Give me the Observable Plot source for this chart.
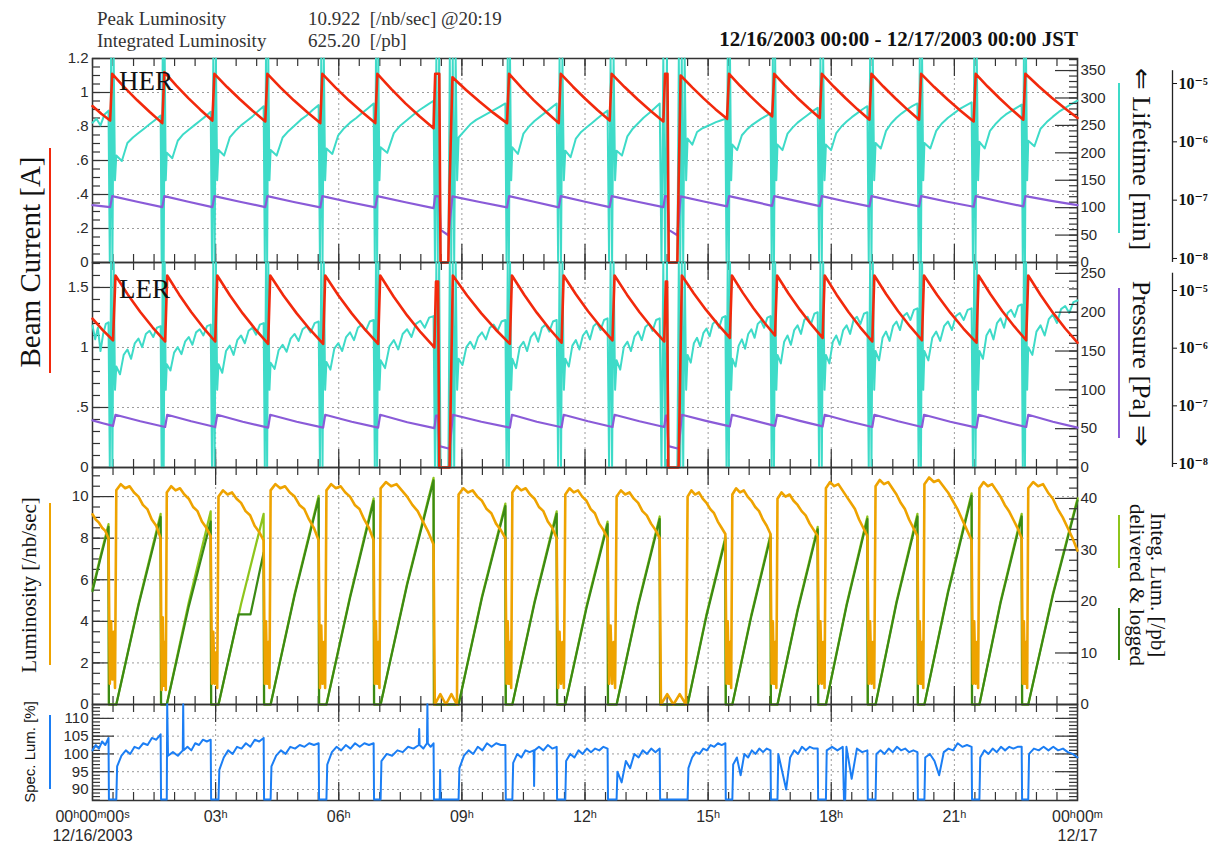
<!DOCTYPE html>
<html><head><meta charset="utf-8">
<script src="https://cdn.jsdelivr.net/npm/d3@7"></script>
<script src="https://cdn.jsdelivr.net/npm/@observablehq/plot@0.6"></script>
<style>
body{margin:0;background:#fff;}
#root{position:relative;width:1209px;height:845px;overflow:hidden;font-family:"Liberation Serif",serif;color:#222;}
.lbl{position:absolute;white-space:pre;line-height:1;}
.sw{position:absolute;}
</style></head><body><div id="root"></div><script>
// ---------------- DATA (hours since 12/16/2003 00:00 JST) ----------------
// Each run: [tStart, tEnd, v0, v1, ... vn] = values read at evenly spaced times from tStart to tEnd
const herCurrent = [ // A
 [0,0.43,0.92,0.875,0.835],[0.43,0.48,0.835,1.11],
 [0.48,1.70,1.11,1.029,0.954,0.885,0.82],[1.70,1.75,0.82,1.12],
 [1.75,2.92,1.12,1.04,0.967,0.899,0.835],[2.92,2.97,0.835,1.11],
 [2.97,4.21,1.11,1.032,0.96,0.893,0.83],[4.21,4.26,0.83,1.11],
 [4.26,5.55,1.11,1.029,0.954,0.885,0.82],[5.55,5.60,0.82,1.11],
 [5.60,6.89,1.11,1.029,0.954,0.885,0.82],[6.89,6.94,0.82,1.11],
 [6.94,8.31,1.11,1.02,0.936,0.86,0.79],[8.31,8.35,0.79,1.11],[8.35,8.45,1.11,1.11],[8.45,8.48,1.11,0],[8.48,8.67,0,0],[8.67,8.70,0,0.45],[8.70,8.77,0.45,1.09],
 [8.77,10.10,1.09,1.015,0.945,0.88,0.82],[10.10,10.15,0.82,1.11],
 [10.15,11.36,1.11,1.029,0.954,0.885,0.82],[11.36,11.41,0.82,1.11],
 [11.41,12.60,1.11,1.034,0.963,0.897,0.835],[12.60,12.65,0.835,1.11],
 [12.65,13.91,1.11,1.032,0.96,0.893,0.83],[13.91,13.95,0.83,1.11],[13.95,14.01,1.11,1.11],[14.01,14.04,1.11,0],[14.04,14.25,0,0],[14.25,14.28,0,0.45],[14.28,14.33,0.45,1.10],
 [14.33,15.46,1.10,1.03,0.964,0.902,0.845],[15.46,15.51,0.845,1.11],
 [15.51,16.56,1.11,1.041,0.977,0.917,0.86],[16.56,16.61,0.86,1.11],
 [16.61,17.72,1.11,1.038,0.971,0.909,0.85],[17.72,17.77,0.85,1.11],
 [17.77,18.93,1.11,1.035,0.966,0.901,0.84],[18.93,18.98,0.84,1.11],
 [18.98,20.14,1.11,1.035,0.966,0.901,0.84],[20.14,20.19,0.84,1.11],
 [20.19,21.47,1.11,1.032,0.96,0.893,0.83],[21.47,21.52,0.83,1.11],
 [21.52,22.68,1.11,1.035,0.966,0.901,0.84],[22.68,22.73,0.84,1.11],
 [22.73,24,1.11,1.038,0.971,0.909,0.85]
];
const herLifetime = [ // min
 [0,0.39,255,262,250,270,277],[0.39,0.58,277,0,372,0,372,150,195],
 [0.58,1.66,195,185,218,228,236,244,252,260,268],[1.66,1.81,268,0,372,0,372,150,200],
 [1.81,2.88,200,190,222,234,242,250,258,266,275],[2.88,3.07,275,0,372,0,372,150,205],
 [3.07,4.17,205,195,228,240,250,258,266,276,285],[4.17,4.34,285,0,372,0,372,150,205],
 [4.34,5.51,205,195,228,240,250,260,268,278,287],[5.51,5.70,287,0,372,0,372,150,208],
 [5.70,6.85,208,198,232,245,255,263,272,281,290],[6.85,7.02,290,0,372,0,372,150,210],
 [7.02,8.31,210,200,236,250,260,270,279,287,295],[8.31,8.48,295,0,372,0,372,0],[8.48,8.67,0,0],[8.67,8.92,0,372,0,372,0,372,150,228],
 [8.92,10.06,228,240,252,260,266,272,278,284,290],[10.06,10.23,290,0,372,0,372,150,210],
 [10.23,11.31,210,198,235,248,258,266,274,282,290],[11.31,11.52,290,0,372,0,372,150,204],
 [11.52,12.55,204,192,226,238,246,254,262,270,277],[12.55,12.77,277,0,372,0,372,150,204],
 [12.77,13.82,204,195,230,244,254,264,272,281,290],[13.82,14.04,290,0,372,0,372,0],[14.04,14.25,0,0],[14.25,14.50,0,372,0,372,0,372,150,226],
 [14.50,15.42,226,215,238,244,248,252,256,259,262],[15.42,15.59,262,0,372,0,372,150,215],
 [15.59,16.52,215,205,232,242,250,256,262,267,272],[16.52,16.69,272,0,372,0,372,150,215],
 [16.69,17.67,215,205,235,246,255,262,269,276,282],[17.67,17.87,282,0,372,0,372,150,215],
 [17.87,18.88,215,205,236,248,257,265,272,279,285],[18.88,19.08,285,0,372,0,372,150,218],
 [19.08,20.10,218,208,240,254,264,272,279,285,290],[20.10,20.27,290,0,372,0,372,150,218],
 [20.27,21.42,218,208,240,254,264,272,280,286,292],[21.42,21.61,292,0,372,0,372,150,220],
 [21.61,22.64,220,208,240,252,262,270,276,282,288],[22.64,22.80,288,0,372,0,372,150,222],
 [22.80,24,222,212,244,256,266,275,282,289,295]
];
const herPressure = [ // Pa
 [0,0.43,8.2e-8,7.9e-8,7.6e-8],[0.43,0.48,7.6e-8,1.17e-7],
 [0.48,1.70,1.17e-7,9.4e-8,7.6e-8],[1.70,1.75,7.6e-8,1.17e-7],
 [1.75,2.92,1.17e-7,9.4e-8,7.6e-8],[2.92,2.97,7.6e-8,1.17e-7],
 [2.97,4.21,1.17e-7,9.4e-8,7.6e-8],[4.21,4.26,7.6e-8,1.17e-7],
 [4.26,5.55,1.17e-7,9.3e-8,7.5e-8],[5.55,5.60,7.5e-8,1.17e-7],
 [5.60,6.89,1.17e-7,9.3e-8,7.5e-8],[6.89,6.94,7.5e-8,1.17e-7],
 [6.94,8.31,1.17e-7,9.2e-8,7.3e-8],[8.31,8.35,7.3e-8,1.17e-7],[8.35,8.45,1.17e-7,1.16e-7],[8.45,8.48,1.16e-7,3.1e-8],[8.48,8.67,3.1e-8,2.5e-8],[8.67,8.77,2.5e-8,1.16e-7],
 [8.77,10.10,1.16e-7,9.3e-8,7.5e-8],[10.10,10.15,7.5e-8,1.17e-7],
 [10.15,11.36,1.17e-7,9.4e-8,7.5e-8],[11.36,11.41,7.5e-8,1.17e-7],
 [11.41,12.60,1.17e-7,9.4e-8,7.6e-8],[12.60,12.65,7.6e-8,1.17e-7],
 [12.65,13.91,1.17e-7,9.4e-8,7.6e-8],[13.91,13.95,7.6e-8,1.17e-7],[13.95,14.01,1.17e-7,1.16e-7],[14.01,14.04,1.16e-7,3.1e-8],[14.04,14.25,3.1e-8,2.5e-8],[14.25,14.33,2.5e-8,1.16e-7],
 [14.33,15.46,1.16e-7,9.5e-8,7.8e-8],[15.46,15.51,7.8e-8,1.17e-7],
 [15.51,16.56,1.17e-7,9.7e-8,8.0e-8],[16.56,16.61,8.0e-8,1.17e-7],
 [16.61,17.72,1.17e-7,9.6e-8,7.9e-8],[17.72,17.77,7.9e-8,1.17e-7],
 [17.77,18.93,1.17e-7,9.5e-8,7.8e-8],[18.93,18.98,7.8e-8,1.17e-7],
 [18.98,20.14,1.17e-7,9.5e-8,7.8e-8],[20.14,20.19,7.8e-8,1.17e-7],
 [20.19,21.47,1.17e-7,9.4e-8,7.7e-8],[21.47,21.52,7.7e-8,1.17e-7],
 [21.52,22.68,1.17e-7,9.5e-8,7.8e-8],[22.68,22.73,7.8e-8,1.17e-7],
 [22.73,24,1.17e-7,9.7e-8,8.2e-8]
];
const lerCurrent = [ // A
 [0,0.50,1.24,1.145,1.06],[0.50,0.56,1.06,1.60],
 [0.56,1.77,1.60,1.44,1.296,1.166,1.05],[1.77,1.82,1.05,1.60],
 [1.82,2.99,1.60,1.44,1.296,1.166,1.05],[2.99,3.04,1.05,1.60],
 [3.04,4.28,1.60,1.433,1.284,1.15,1.03],[4.28,4.33,1.03,1.60],
 [4.33,5.62,1.60,1.433,1.284,1.15,1.03],[5.62,5.67,1.03,1.60],
 [5.67,6.96,1.60,1.433,1.284,1.15,1.03],[6.96,7.01,1.03,1.60],
 [7.01,8.33,1.60,1.423,1.265,1.125,1.00],[8.33,8.37,1.00,1.55],[8.37,8.42,1.55,1.55],[8.42,8.45,1.55,0],[8.45,8.70,0,0],[8.70,8.78,0,1.60],
 [8.78,10.17,1.60,1.433,1.284,1.15,1.03],[10.17,10.22,1.03,1.60],
 [10.22,11.43,1.60,1.437,1.29,1.158,1.04],[11.43,11.48,1.04,1.60],
 [11.48,12.67,1.60,1.443,1.302,1.175,1.06],[12.67,12.72,1.06,1.60],
 [12.72,13.93,1.60,1.44,1.296,1.166,1.05],[13.93,13.97,1.05,1.55],[13.97,14.00,1.55,1.55],[14.00,14.03,1.55,0],[14.03,14.28,0,0],[14.28,14.36,0,1.60],
 [14.36,15.53,1.60,1.45,1.315,1.192,1.08],[15.53,15.58,1.08,1.60],
 [15.58,16.63,1.60,1.457,1.327,1.208,1.10],[16.63,16.68,1.10,1.60],
 [16.68,17.79,1.60,1.45,1.315,1.192,1.08],[17.79,17.84,1.08,1.60],
 [17.84,19.00,1.60,1.44,1.296,1.166,1.05],[19.00,19.05,1.05,1.60],
 [19.05,20.21,1.60,1.443,1.302,1.175,1.06],[20.21,20.26,1.06,1.60],
 [20.26,21.54,1.60,1.437,1.29,1.158,1.04],[21.54,21.59,1.04,1.60],
 [21.59,22.75,1.60,1.443,1.302,1.175,1.06],[22.75,22.80,1.06,1.60],
 [22.80,24,1.60,1.437,1.29,1.158,1.04]
];
const lerLifetime = [ // min
 [0,0.39,183,165,180,150,172,185,187],[0.39,0.58,187,0,264,0,264,100,130],
 [0.58,1.66,130,120,145,152,140,160,166,155,172,176,168,180,182],[1.66,1.81,182,0,264,0,264,100,133],
 [1.81,2.88,133,125,148,155,146,162,168,158,174,178,170,182,184],[2.88,3.07,184,0,264,0,264,100,133],
 [3.07,4.17,133,122,150,157,145,164,170,160,176,180,171,184,186],[4.17,4.34,186,0,264,0,264,100,135],
 [4.34,5.51,135,127,151,158,149,166,172,163,178,182,174,186,188],[5.51,5.70,188,0,264,0,264,100,136],
 [5.70,6.85,136,126,153,160,150,168,174,164,180,184,176,188,190],[6.85,7.02,190,0,264,0,264,100,138],
 [7.02,8.31,138,128,156,164,152,172,178,168,185,189,180,193,195],[8.31,8.48,195,0,264,0,264,0],[8.48,8.67,0,0],[8.67,8.92,0,264,0,264,0,264,100,140],
 [8.92,10.06,140,132,155,162,153,168,174,165,180,184,176,188,190],[10.06,10.23,190,0,264,0,264,100,140],
 [10.23,11.31,140,128,155,162,150,168,174,162,180,184,175,188,190],[11.31,11.52,190,0,264,0,264,100,140],
 [11.52,12.55,140,130,157,164,152,170,176,165,182,186,177,190,192],[12.55,12.77,192,0,264,0,264,100,138],
 [12.77,13.82,138,126,155,162,150,169,175,164,181,185,176,190,192],[13.82,14.04,192,0,264,0,264,0],[14.04,14.25,0,0],[14.25,14.50,0,264,0,264,0,264,100,145],
 [14.50,15.42,145,135,160,167,156,173,179,169,185,189,180,193,195],[15.42,15.59,195,0,264,0,264,100,140],
 [15.59,16.52,140,130,157,165,153,172,178,167,185,189,180,193,195],[16.52,16.69,195,0,264,0,264,100,145],
 [16.69,17.67,145,134,162,170,158,177,183,172,190,194,185,198,200],[17.67,17.87,200,0,264,0,264,100,145],
 [17.87,18.88,145,134,162,170,158,177,183,172,190,194,185,198,200],[18.88,19.08,200,0,264,0,264,100,150],
 [19.08,20.10,150,138,167,175,163,182,188,177,195,199,190,203,205],[20.10,20.27,205,0,264,0,264,100,150],
 [20.27,21.42,150,138,167,175,163,182,188,177,195,199,190,203,205],[21.42,21.61,205,0,264,0,264,100,150],
 [21.61,22.64,150,140,170,178,165,186,192,180,199,203,194,208,210],[22.64,22.80,210,0,264,0,264,100,155],
 [22.80,24,155,145,175,183,170,191,197,186,204,208,199,213,215]
];
const lerPressure = [ // Pa
 [0,0.50,5.6e-8,5.0e-8,4.5e-8],[0.50,0.56,4.5e-8,7.0e-8],
 [0.56,1.77,7.0e-8,5.4e-8,4.3e-8],[1.77,1.82,4.3e-8,7.0e-8],
 [1.82,2.99,7.0e-8,5.4e-8,4.3e-8],[2.99,3.04,4.3e-8,7.0e-8],
 [3.04,4.28,7.0e-8,5.3e-8,4.2e-8],[4.28,4.33,4.2e-8,7.0e-8],
 [4.33,5.62,7.0e-8,5.3e-8,4.2e-8],[5.62,5.67,4.2e-8,7.0e-8],
 [5.67,6.96,7.0e-8,5.3e-8,4.2e-8],[6.96,7.01,4.2e-8,7.0e-8],
 [7.01,8.33,7.0e-8,5.2e-8,4.1e-8],[8.33,8.37,4.1e-8,6.8e-8],[8.37,8.42,6.8e-8,6.8e-8],[8.42,8.45,6.8e-8,2.0e-8],[8.45,8.70,2.0e-8,1.8e-8],[8.70,8.78,1.8e-8,7.0e-8],
 [8.78,10.17,7.0e-8,5.3e-8,4.2e-8],[10.17,10.22,4.2e-8,7.0e-8],
 [10.22,11.43,7.0e-8,5.3e-8,4.25e-8],[11.43,11.48,4.25e-8,7.0e-8],
 [11.48,12.67,7.0e-8,5.4e-8,4.3e-8],[12.67,12.72,4.3e-8,7.0e-8],
 [12.72,13.93,7.0e-8,5.4e-8,4.3e-8],[13.93,13.97,4.3e-8,6.8e-8],[13.97,14.00,6.8e-8,6.8e-8],[14.00,14.03,6.8e-8,2.0e-8],[14.03,14.28,2.0e-8,1.8e-8],[14.28,14.36,1.8e-8,7.0e-8],
 [14.36,15.53,7.0e-8,5.5e-8,4.4e-8],[15.53,15.58,4.4e-8,7.0e-8],
 [15.58,16.63,7.0e-8,5.6e-8,4.5e-8],[16.63,16.68,4.5e-8,7.0e-8],
 [16.68,17.79,7.0e-8,5.5e-8,4.4e-8],[17.79,17.84,4.4e-8,7.0e-8],
 [17.84,19.00,7.0e-8,5.4e-8,4.3e-8],[19.00,19.05,4.3e-8,7.0e-8],
 [19.05,20.21,7.0e-8,5.4e-8,4.3e-8],[20.21,20.26,4.3e-8,7.0e-8],
 [20.26,21.54,7.0e-8,5.3e-8,4.2e-8],[21.54,21.59,4.2e-8,7.0e-8],
 [21.59,22.75,7.0e-8,5.4e-8,4.3e-8],[22.75,22.80,4.3e-8,7.0e-8],
 [22.80,24,7.0e-8,5.3e-8,4.2e-8]
];
const luminosity = [ // /nb/sec
 [0,0.39,9.15,8.9,8.75,8.5,8.35,8.0],[0.39,0.58,8.0,1.0,4.0,1.2,3.5,0.8,10.2],
 [0.58,1.66,10.3,10.6,10.4,10.5,10.2,10.0,9.6,9.4,8.9,8.6,8.0],[1.66,1.81,8.0,0.7,4.2,0.9,3.0,0.7,10.1],
 [1.81,2.88,10.2,10.5,10.3,10.4,10.1,9.9,9.5,9.3,8.8,8.5,8.1],[2.88,3.07,8.1,1.0,3.5,1.0,2.5,0.8,10.0],
 [3.07,4.17,10.0,10.3,10.1,10.2,9.9,9.7,9.3,9.1,8.6,8.3,7.9],[4.17,4.34,7.9,1.0,4.0,1.0,3.0,0.8,10.2],
 [4.34,5.51,10.3,10.6,10.4,10.5,10.2,10.0,9.6,9.4,8.9,8.5,7.9],[5.51,5.70,7.9,0.8,3.8,1.0,3.0,0.8,10.2],
 [5.70,6.85,10.3,10.6,10.4,10.5,10.2,10.0,9.6,9.4,8.9,8.5,7.9],[6.85,7.02,7.9,1.0,4.0,1.0,3.0,0.8,10.3],
 [7.02,8.31,10.4,10.7,10.5,10.6,10.3,10.0,9.6,9.3,8.8,8.3,7.7],[8.31,8.34,7.7,0],[8.34,8.88,0,0.5,0,0.5,0],[8.88,8.92,0,10.1],
 [8.92,10.06,10.1,10.4,10.2,10.3,10.0,9.8,9.4,9.2,8.7,8.4,8.0],[10.06,10.23,8.0,1.0,4.0,1.0,3.0,0.8,10.1],
 [10.23,11.31,10.2,10.5,10.3,10.4,10.1,9.9,9.5,9.3,8.8,8.5,8.0],[11.31,11.52,8.0,0.8,3.5,1.0,3.0,0.8,10.0],
 [11.52,12.55,10.1,10.4,10.2,10.3,10.0,9.8,9.4,9.2,8.7,8.4,8.0],[12.55,12.77,8.0,1.0,3.8,1.0,3.0,0.8,9.9],
 [12.77,13.82,10.0,10.3,10.1,10.2,9.9,9.7,9.3,9.1,8.7,8.4,8.0],[13.82,13.85,8.0,0],[13.85,14.46,0,0.5,0,0.5,0],[14.46,14.50,0,10.0],
 [14.50,15.42,10.0,10.3,10.1,10.2,9.9,9.7,9.4,9.2,8.8,8.5,8.2],[15.42,15.59,8.2,1.0,4.0,1.0,3.0,0.8,10.1],
 [15.59,16.52,10.1,10.4,10.2,10.3,10.0,9.8,9.5,9.3,8.9,8.6,8.2],[16.52,16.69,8.2,1.0,4.0,1.0,3.0,0.8,9.9],
 [16.69,17.67,9.9,10.2,10.0,10.1,9.8,9.6,9.3,9.1,8.7,8.4,8.1],[17.67,17.87,8.1,1.0,4.0,1.0,3.0,0.8,10.4],
 [17.87,18.88,10.4,10.7,10.5,10.6,10.3,10.0,9.7,9.4,8.9,8.5,8.1],[18.88,19.08,8.1,1.0,4.0,1.0,3.0,0.8,10.5],
 [19.08,20.10,10.5,10.8,10.6,10.7,10.4,10.1,9.7,9.4,8.9,8.5,8.1],[20.10,20.27,8.1,1.0,4.0,1.0,3.0,0.8,10.6],
 [20.27,21.42,10.6,10.92,10.7,10.8,10.5,10.2,9.8,9.4,8.9,8.4,7.9],[21.42,21.61,7.9,1.0,4.0,1.0,3.0,0.8,10.4],
 [21.61,22.64,10.4,10.7,10.5,10.6,10.3,10.0,9.6,9.3,8.9,8.5,8.0],[22.64,22.80,8.0,1.0,4.0,1.0,3.0,0.8,10.4],
 [22.80,24,10.4,10.7,10.5,10.6,10.2,9.9,9.4,9.0,8.5,8.0,7.4]
];
const integDelivered = [ // /pb
 [0,0.39,22.3,28.8,35.0],[0.39,0.40,35.0,0],[0.40,0.58,0,0],
 [0.58,1.66,0,19.5,37.0],[1.66,1.67,37.0,0],[1.67,1.81,0,0],
 [1.81,2.88,0,19.8,37.5],[2.88,2.89,37.5,0],[2.89,3.07,0,0],
 [3.07,4.17,0,19.5,37.0],[4.17,4.18,37.0,0],[4.18,4.34,0,0],
 [4.34,5.51,0,21.5,40.5],[5.51,5.52,40.5,0],[5.52,5.70,0,0],
 [5.70,6.85,0,21.0,40.0],[6.85,6.86,40.0,0],[6.86,7.02,0,0],
 [7.02,8.31,0,23.5,44.0],[8.31,8.32,44.0,0],[8.32,8.92,0,0],
 [8.92,10.06,0,21.0,39.0],[10.06,10.07,39.0,0],[10.07,10.23,0,0],
 [10.23,11.31,0,20.0,37.5],[11.31,11.32,37.5,0],[11.32,11.52,0,0],
 [11.52,12.55,0,19.0,35.5],[12.55,12.56,35.5,0],[12.56,12.77,0,0],
 [12.77,13.82,0,19.5,36.5],[13.82,13.83,36.5,0],[13.83,14.50,0,0],
 [14.50,15.42,0,17.5,32.5],[15.42,15.43,32.5,0],[15.43,15.59,0,0],
 [15.59,16.52,0,17.5,33.0],[16.52,16.53,33.0,0],[16.53,16.69,0,0],
 [16.69,17.67,0,18.5,34.5],[17.67,17.68,34.5,0],[17.68,17.87,0,0],
 [17.87,18.88,0,19.5,36.5],[18.88,18.89,36.5,0],[18.89,19.08,0,0],
 [19.08,20.10,0,20.0,37.0],[20.10,20.11,37.0,0],[20.11,20.27,0,0],
 [20.27,21.42,0,22.0,41.0],[21.42,21.43,41.0,0],[21.43,21.61,0,0],
 [21.61,22.64,0,20.0,37.0],[22.64,22.65,37.0,0],[22.65,22.80,0,0],
 [22.80,24,0,21.5,40.0]
];
const integLogged = [ // /pb
 [0,0.39,22.0,28.4,34.5],[0.39,0.40,34.5,0],[0.40,0.58,0,0],
 [0.58,1.66,0,19.2,36.4],[1.66,1.67,36.4,0],[1.67,1.81,0,0],
 [1.81,2.88,0,19.0,35.5],[2.88,2.89,35.5,0],[2.89,3.07,0,0],
 [3.07,3.56,0,17.5],[3.56,3.85,17.5,17.5],[3.85,4.17,17.5,29.5],[4.17,4.18,29.5,0],[4.18,4.34,0,0],
 [4.34,5.51,0,21.2,40.0],[5.51,5.52,40.0,0],[5.52,5.70,0,0],
 [5.70,6.85,0,20.7,39.5],[6.85,6.86,39.5,0],[6.86,7.02,0,0],
 [7.02,8.31,0,23.2,43.5],[8.31,8.32,43.5,0],[8.32,8.92,0,0],
 [8.92,10.06,0,20.7,38.5],[10.06,10.07,38.5,0],[10.07,10.23,0,0],
 [10.23,11.31,0,19.7,37.0],[11.31,11.32,37.0,0],[11.32,11.52,0,0],
 [11.52,12.55,0,18.7,35.0],[12.55,12.56,35.0,0],[12.56,12.77,0,0],
 [12.77,13.82,0,19.2,36.0],[13.82,13.83,36.0,0],[13.83,14.50,0,0],
 [14.50,15.42,0,17.2,32.0],[15.42,15.43,32.0,0],[15.43,15.59,0,0],
 [15.59,16.52,0,17.2,32.5],[16.52,16.53,32.5,0],[16.53,16.69,0,0],
 [16.69,17.67,0,18.2,34.0],[17.67,17.68,34.0,0],[17.68,17.87,0,0],
 [17.87,18.88,0,19.2,36.0],[18.88,18.89,36.0,0],[18.89,19.08,0,0],
 [19.08,20.10,0,19.7,36.5],[20.10,20.11,36.5,0],[20.11,20.27,0,0],
 [20.27,21.42,0,21.7,40.5],[21.42,21.43,40.5,0],[21.43,21.61,0,0],
 [21.61,22.64,0,19.7,36.5],[22.64,22.65,36.5,0],[22.65,22.80,0,0],
 [22.80,24,0,21.2,39.6]
];
const specLumi = [ // %
 [0,0.39,101.0,102.5,101.5,103.5,102.5,104.5],[0.39,0.40,104.5,87.2],[0.40,0.58,87.2,87.2],[0.58,0.60,87.2,96.5],
 [0.60,1.66,96.5,99.5,101.0,100.0,102.0,101.5,103.0,102.5,104.5,104.0,105.5],[1.66,1.67,105.5,87.2],[1.67,1.81,87.2,87.2],[1.81,1.82,87.2,114],[1.82,1.84,114,99.5],
 [1.84,2.20,99.5,100.5,99.5,101.0],[2.20,2.22,101.0,114,101.0],[2.22,2.88,101.0,102.0,101.0,103.0,102.5,104.0,103.5,104.0],[2.88,2.89,104.0,87.2],[2.89,3.07,87.2,87.2],[3.07,3.09,87.2,95.5],
 [3.09,4.17,95.5,99.0,101.0,100.0,102.0,101.5,103.0,102.0,104.0,103.5,104.5],[4.17,4.18,104.5,87.2],[4.18,4.34,87.2,87.2],[4.34,4.36,87.2,96.5],
 [4.36,5.51,96.5,99.5,101.0,100.0,102.0,101.5,102.5,102.0,103.0,102.5,103.0],[5.51,5.52,103.0,87.2],[5.52,5.70,87.2,87.2],[5.70,5.72,87.2,97.0],
 [5.72,6.85,97.0,100.5,102.0,101.0,102.5,101.5,103.0,102.0,103.0,102.5,103.0],[6.85,6.86,103.0,87.2],[6.86,7.02,87.2,87.2],[7.02,7.04,87.2,98.0],
 [7.04,7.95,98.0,100.0,99.5,101.0,100.5,102.0,101.5,102.5],[7.95,7.97,102.5,107,102.5],[7.97,8.15,102.5,101.5,103.0],[8.15,8.17,103.0,114,103.0],[8.17,8.31,103.0,102.0,103.0],
 [8.31,8.32,103.0,87.2],[8.32,8.46,87.2,87.2],[8.46,8.48,87.2,95.5,87.2],[8.48,8.92,87.2,87.2],[8.92,8.94,87.2,96.0],
 [8.94,10.06,96.0,99.5,101.0,100.0,102.0,101.0,103.0,102.0,103.0,102.5,102.5],[10.06,10.07,102.5,87.2],[10.07,10.23,87.2,87.2],[10.23,10.25,87.2,97.5],
 [10.25,10.75,97.5,100.0,99.0,101.0,100.5,101.0],[10.75,10.77,101.0,91.0,101.0],[10.77,11.31,101.0,102.0,101.0,102.5,101.5,102.0],[11.31,11.32,102.0,87.2],[11.32,11.52,87.2,87.2],[11.52,11.54,87.2,98.0],
 [11.54,12.55,98.0,100.0,99.0,101.0,100.0,101.5,100.5,101.5,101.0,102.0,101.5],[12.55,12.56,101.5,87.2],[12.56,12.77,87.2,87.2],[12.77,12.79,87.2,95.0],
 [12.79,13.82,95.0,92.0,98.0,96.0,100.0,99.0,101.0,100.0,101.5,100.5,101.5],[13.82,13.83,101.5,87.2],[13.83,14.50,87.2,87.2],[14.50,14.52,87.2,96.0],
 [14.52,15.42,96.0,99.0,100.5,100.0,101.5,101.0,102.5,102.0,103.0,102.5,103.0],[15.42,15.43,103.0,87.2],[15.43,15.59,87.2,87.2],[15.59,15.61,87.2,97.0],
 [15.61,16.52,97.0,99.0,94.0,100.0,99.0,101.0,100.0,101.5,100.5,101.5,101.0],[16.52,16.53,101.0,87.2],[16.53,16.69,87.2,87.2],[16.69,16.71,87.2,100.0],
 [16.71,17.67,100.0,95.0,90.0,99.0,101.0,100.0,102.0,101.0,102.0,101.5,101.5],[17.67,17.68,101.5,87.2],[17.68,17.87,87.2,87.2],[17.87,17.89,87.2,101.0],
 [17.89,18.28,101.0,102.0,101.0,102.0],[18.28,18.37,102.0,87.2,87.2,102.0],[18.37,18.88,102.0,93.0,101.5,100.5,101.0],[18.88,18.89,101.0,87.2],[18.89,19.08,87.2,87.2],[19.08,19.10,87.2,100.0],
 [19.10,20.10,100.0,101.0,100.0,101.5,100.5,102.0,101.0,101.5,100.5,101.0,100.5],[20.10,20.11,100.5,87.2],[20.11,20.27,87.2,87.2],[20.27,20.29,87.2,99.0],
 [20.29,21.42,99.0,100.0,98.0,94.0,100.5,101.5,101.0,103.0,102.0,102.5,102.0],[21.42,21.43,102.0,87.2],[21.43,21.61,87.2,87.2],[21.61,21.63,87.2,99.0],
 [21.63,22.64,99.0,101.0,100.0,101.5,100.5,102.0,101.0,102.0,101.5,102.0,102.0],[22.64,22.65,102.0,87.2],[22.65,22.80,87.2,87.2],[22.80,22.82,87.2,100.0],
 [22.82,24,100.0,101.5,101.0,102.0,101.0,102.0,101.0,101.5,100.5,100.0,99.0]
];
// ---------------- helpers ----------------
const pts = runs => runs.flatMap(([t0, t1, ...v]) =>
  v.map((val, k) => ({t: v.length > 1 ? t0 + (t1 - t0) * k / (v.length - 1) : t0, v: val})));
const root = document.getElementById("root");
const W = 1209, X0 = 92, X1 = 1077, ML = X0, MR = W - X1, PAD = 16, IW = X1 - X0;
const hoursMinor = d3.range(0, 24.001, 0.5);
const hoursMajor = d3.range(3, 22, 3);
const C = {red:"#f2290c", cyan:"#3edbc8", purple:"#8a5bd8", orange:"#eea300", lgreen:"#8ec51c", dgreen:"#3b8a14", blue:"#1b7ef4"};
const TK = {stroke:"#333", strokeWidth:1.2};
const GRID = {stroke:"#9c9c9c", strokeDasharray:"2,3", strokeWidth:1};
const numFmt = d => d === 0 ? "0" : (+d.toFixed(2)).toString().replace(/^0\./, ".");

function layer(top, h, y, marks, extraBottom = 0) {
  const svg = Plot.plot({
    width: W, height: h + 2 * PAD + extraBottom,
    marginLeft: ML, marginRight: MR, marginTop: PAD, marginBottom: PAD + extraBottom,
    x: {domain: [0, 24], axis: null},
    y: {...y, axis: null},
    style: {background: "transparent", fontFamily: "'Liberation Sans', 'DejaVu Sans', sans-serif", fontSize: "15px", color: "#2a2a2a", overflow: "visible"},
    marks
  });
  svg.style.position = "absolute"; svg.style.left = "0px"; svg.style.top = (top - PAD) + "px";
  root.appendChild(svg);
}
function xTicks(h) {
  return [
    Plot.tickX(hoursMinor, {x: d => d, insetBottom: h - 8, ...TK}),
    Plot.tickX(hoursMinor, {x: d => d, insetTop: h - 8, ...TK}),
    Plot.tickX(hoursMajor, {x: d => d, insetBottom: h - 18, ...TK}),
    Plot.tickX(hoursMajor, {x: d => d, insetTop: h - 18, ...TK})
  ];
}
const leftTicks = (major, minor) => [
  Plot.tickY(minor, {y: d => d, insetRight: IW - 8, ...TK}),
  Plot.tickY(major, {y: d => d, insetRight: IW - 22, ...TK})
];
const rightTicks = (major, minor) => [
  Plot.tickY(minor, {y: d => d, insetLeft: IW - 8, ...TK}),
  Plot.tickY(major, {y: d => d, insetLeft: IW - 22, ...TK})
];
const leftLabels = (ticks, fmt = numFmt) => Plot.axisY({anchor: "left", ticks, tickSize: 0, tickPadding: 4, tickFormat: fmt, label: null});
const rightLabels = (ticks, fmt = numFmt) => Plot.axisY({anchor: "right", ticks, tickSize: 0, tickPadding: 3, tickFormat: fmt, label: null});
const line = (runs, stroke, w = 2.2) => Plot.line(pts(runs), {x: "t", y: "v", stroke, strokeWidth: w, strokeLinejoin: "round"});

function logAxis(top, h, domain, ruleTop) {
  const sup = {"-": "⁻", "5": "⁵", "6": "⁶", "7": "⁷", "8": "⁸"};
  const svg = Plot.plot({
    width: 60, height: h + 2 * PAD, marginLeft: 6, marginRight: 50, marginTop: PAD, marginBottom: PAD,
    x: {domain: [0, 1], axis: null},
    y: {type: "log", domain, axis: null},
    style: {background: "transparent", fontFamily: "'Liberation Serif', 'DejaVu Serif', serif", fontSize: "16px", fontWeight: "bold", color: "#111", overflow: "visible"},
    marks: [
      Plot.ruleX([1], {y1: ruleTop, y2: domain[0], stroke: "#222", strokeWidth: 1.3}),
      Plot.axisY({anchor: "right", ticks: [1e-5, 1e-6, 1e-7, 1e-8], tickSize: 4, tickPadding: 2, label: null,
        tickFormat: d => "10" + String(Math.round(Math.log10(d))).split("").map(c => sup[c]).join("")})
    ]
  });
  svg.style.position = "absolute"; svg.style.left = (1172 - 10) + "px"; svg.style.top = (top - PAD) + "px";
  root.appendChild(svg);
}

// ---------------- panels ----------------
// HER
const herY = {domain: [0, 1.2]};
layer(58, 204, herY, [
  Plot.ruleY([0.2, 0.4, 0.6, 0.8, 1.0], {y: d => d, ...GRID}),
  Plot.ruleX(hoursMajor, {x: d => d, ...GRID}),
  ...xTicks(204), ...leftTicks(d3.range(0, 1.21, 0.2), d3.range(0, 1.21, 0.05)),
  leftLabels([0, 0.2, 0.4, 0.6, 0.8, 1, 1.2]),
  Plot.frame({stroke: "#333", strokeWidth: 1.5})
]);
layer(58, 204, {domain: [0, 372]}, [
  line(herLifetime, C.cyan, 2),
  ...rightTicks(d3.range(0, 351, 50), d3.range(0, 371, 10)),
  rightLabels(d3.range(0, 351, 50))
]);
layer(58, 204, {type: "log", domain: [Math.pow(10, -8.069), Math.pow(10, -4.571)]}, [line(herPressure, C.purple, 2.2)]);
layer(58, 204, herY, [line(herCurrent, C.red, 2.6)]);
logAxis(58, 204, [Math.pow(10, -8.069), Math.pow(10, -4.571)], Math.pow(10, -4.78));

// LER
const lerY = {domain: [0, 1.708]};
layer(262, 205, lerY, [
  Plot.ruleY([0.5, 1.0, 1.5], {y: d => d, ...GRID}),
  Plot.ruleX(hoursMajor, {x: d => d, ...GRID}),
  ...xTicks(205), ...leftTicks([0, 0.5, 1, 1.5], d3.range(0, 1.71, 0.1)),
  leftLabels([0, 0.5, 1, 1.5]),
  Plot.frame({stroke: "#333", strokeWidth: 1.5})
]);
layer(262, 205, {domain: [0, 264]}, [
  line(lerLifetime, C.cyan, 2),
  ...rightTicks(d3.range(0, 251, 50), d3.range(0, 261, 10)),
  rightLabels(d3.range(0, 251, 50))
]);
layer(262, 205, {type: "log", domain: [Math.pow(10, -8.069), Math.pow(10, -4.514)]}, [line(lerPressure, C.purple, 2.2)]);
layer(262, 205, lerY, [line(lerCurrent, C.red, 2.6)]);
logAxis(262, 205, [Math.pow(10, -8.069), Math.pow(10, -4.514)], Math.pow(10, -4.7));

// Luminosity
const lumY = {domain: [0, 11.4]};
layer(467, 237, lumY, [
  Plot.ruleY([2, 4, 6, 8, 10], {y: d => d, ...GRID}),
  Plot.ruleX(hoursMajor, {x: d => d, ...GRID}),
  ...xTicks(237), ...leftTicks(d3.range(0, 11, 2), d3.range(0, 11.4, 0.5)),
  leftLabels(d3.range(0, 11, 2)),
  Plot.frame({stroke: "#333", strokeWidth: 1.5})
]);
layer(467, 237, {domain: [0, 46]}, [
  line(integDelivered, C.lgreen, 2.2),
  line(integLogged, C.dgreen, 2.2),
  ...rightTicks(d3.range(0, 41, 10), d3.range(0, 46, 2)),
  rightLabels(d3.range(0, 41, 10))
]);
layer(467, 237, lumY, [line(luminosity, C.orange, 2.6)]);

// Specific luminosity + time axis
const specY = {domain: [86.9, 113.9]};
const timeFmt = d => d === 0 ? "00ʰ00ᵐ00ˢ\n12/16/2003" : d === 24 ? "00ʰ00ᵐ\n12/17" : String(d).padStart(2, "0") + "ʰ";
layer(704, 96, specY, [
  Plot.ruleY([90, 95, 100, 105, 110], {y: d => d, ...GRID}),
  Plot.ruleX(hoursMajor, {x: d => d, ...GRID}),
  ...xTicks(96), ...leftTicks(d3.range(90, 111, 5), d3.range(87, 114, 1)),
  ...rightTicks(d3.range(90, 111, 5), d3.range(87, 114, 1)),
  leftLabels(d3.range(90, 111, 5)),
  Plot.axisX({anchor: "bottom", ticks: d3.range(0, 25, 3), tickSize: 0, tickPadding: 8, tickFormat: timeFmt, label: null, lineHeight: 1.2, fontSize: 16}),
  Plot.frame({stroke: "#333", strokeWidth: 1.5})
], 45);
layer(704, 96, specY, [line(specLumi, C.blue, 2)]);

// ---------------- text & legend swatches ----------------
function txt(s, css) { const d = document.createElement("div"); d.className = "lbl"; d.textContent = s; Object.assign(d.style, css); root.appendChild(d); return d; }
function rot(s, cx, cy, deg, css) {
  return txt(s, Object.assign({left: cx + "px", top: cy + "px", transform: `translate(-50%,-50%) rotate(${deg}deg)`, textAlign: "center"}, css));
}
function sw(x, y0, y1, color) { const d = document.createElement("div"); d.className = "sw"; Object.assign(d.style, {left: (x - 1.25) + "px", top: y0 + "px", width: "2.5px", height: (y1 - y0) + "px", background: color}); root.appendChild(d); }

const hdr = {fontSize: "19px", color: "#333", fontFamily: "'Liberation Serif', serif"};
txt("Peak Luminosity", {left: "97px", top: "9px", ...hdr});
txt("10.922  [/nb/sec] @20:19", {left: "308px", top: "9px", ...hdr});
txt("Integrated Luminosity", {left: "97px", top: "31px", ...hdr});
txt("625.20  [/pb]", {left: "308px", top: "31px", ...hdr});
txt("12/16/2003 00:00 - 12/17/2003 00:00 JST", {right: "131px", top: "29px", fontSize: "21px", fontWeight: "bold", color: "#111", fontFamily: "'Liberation Serif', serif"});

txt("HER", {left: "119px", top: "68px", fontSize: "27px", color: "#111"});
txt("LER", {left: "119px", top: "276px", fontSize: "27px", color: "#111"});

rot("Beam Current [A]", 30, 262, -90, {fontSize: "29px", color: "#111"});
sw(50, 148, 373, C.red);
rot("Luminosity [/nb/sec]", 29, 585, -90, {fontSize: "21px", color: "#111"});
sw(50, 503, 665, C.orange);
rot("Spec. Lum. [%]", 29, 752, -90, {fontSize: "15px", color: "#111", fontFamily: "'Liberation Sans', sans-serif"});
sw(50, 715, 789, C.blue);

rot("⇐ Lifetime [min]", 1141, 159, 90, {fontSize: "26px", color: "#111"});
sw(1119, 83, 233, C.cyan);
rot("Pressure [Pa] ⇒", 1141, 364, 90, {fontSize: "26px", color: "#111"});
sw(1119, 288, 438, C.purple);
const il = rot("", 1147, 585, 90, {fontSize: "21px", color: "#111", lineHeight: "21px"});
il.innerHTML = "Integ. Lum. [/pb]<br>delivered &amp; logged";
sw(1119, 515, 568, C.lgreen);
sw(1119, 608, 660, C.dgreen);
</script></body></html>
